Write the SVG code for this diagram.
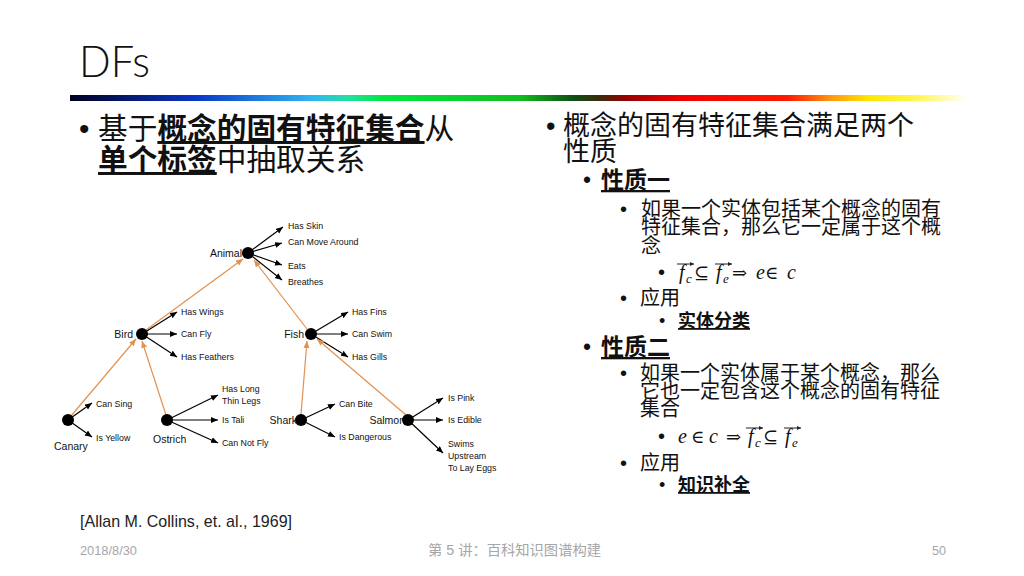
<svg xmlns="http://www.w3.org/2000/svg" width="1024" height="576" viewBox="0 0 1024 576">
<defs>
<linearGradient id="bar" x1="0" y1="0" x2="1" y2="0">
<stop offset="0" stop-color="#000022"/>
<stop offset="0.14" stop-color="#0a36c8"/>
<stop offset="0.27" stop-color="#2fb6f2"/>
<stop offset="0.31" stop-color="#22e0a0"/>
<stop offset="0.35" stop-color="#00e640"/>
<stop offset="0.5" stop-color="#0fc020"/>
<stop offset="0.56" stop-color="#0f5014"/>
<stop offset="0.59" stop-color="#3a2a0c"/>
<stop offset="0.62" stop-color="#9a0000"/>
<stop offset="0.68" stop-color="#ee0000"/>
<stop offset="0.8" stop-color="#ff1a00"/>
<stop offset="0.85" stop-color="#ff9a10"/>
<stop offset="0.89" stop-color="#ffe600"/>
<stop offset="0.95" stop-color="#fff860"/>
<stop offset="1" stop-color="#ffffff"/>
</linearGradient>
<marker id="ab" markerUnits="userSpaceOnUse" markerWidth="8" markerHeight="7" refX="7" refY="3" orient="auto">
<path d="M0,0 L7,3 L0,6 z" fill="#000"/>
</marker>
<marker id="ao" markerUnits="userSpaceOnUse" markerWidth="8" markerHeight="7" refX="7" refY="3" orient="auto">
<path d="M0,0 L7,3 L0,6 z" fill="#e3914f"/>
</marker>
<marker id="va" markerUnits="userSpaceOnUse" markerWidth="5" markerHeight="5" refX="4" refY="2" orient="auto">
<path d="M0,0 L4,2 L0,4 z" fill="#222"/>
</marker>
<style>
.cjk{font-family:"Noto Sans CJK SC","Liberation Sans",sans-serif;fill:#111}
.bul{font-family:"Liberation Sans",sans-serif}
.b{font-weight:bold}
.u{text-decoration:underline}
.lbl{font-family:"Liberation Sans",sans-serif;font-size:8.8px;fill:#111}
.nl{font-family:"Liberation Sans",sans-serif;font-size:10.5px;fill:#111}
.blk{stroke:#000;stroke-width:1.2;fill:none;marker-end:url(#ab)}
.org{stroke:#e3914f;stroke-width:1.2;fill:none;marker-end:url(#ao)}
.dot{fill:#000}
.m{font-family:"Liberation Serif","DejaVu Serif",serif;font-style:italic;font-size:20px;fill:#111}
.ms{font-family:"Liberation Serif","DejaVu Serif",serif;font-style:italic;font-size:13px;fill:#111}
.mo{font-family:"DejaVu Serif","Liberation Serif",serif;font-size:18px;fill:#111}
.va{stroke:#222;stroke-width:1;marker-end:url(#va)}
.ft{font-family:"Liberation Sans","Noto Sans CJK SC",sans-serif;fill:#a6a6a6}
</style>
</defs>
<rect width="1024" height="576" fill="#fff"/>

<text x="79" y="77" font-family="Lato,'Liberation Sans',sans-serif" font-weight="300" font-size="44" fill="#111" textLength="71" lengthAdjust="spacingAndGlyphs">DFs</text>
<rect x="70" y="95" width="897" height="6" fill="url(#bar)"/>

<g id="left-text" class="cjk" font-size="29.7">
<text y="139"><tspan class="bul" x="79">•</tspan><tspan x="98">基于</tspan><tspan class="b u">概念的固有特征集合</tspan><tspan>从</tspan></text>
<text y="170"><tspan class="b u" x="98">单个标签</tspan><tspan>中抽取关系</tspan></text>
</g>

<g id="connectors">
<line class="blk" x1="248" y1="253" x2="283" y2="227"/>
<line class="blk" x1="248" y1="253" x2="282" y2="243"/>
<line class="blk" x1="248" y1="253" x2="282" y2="265"/>
<line class="blk" x1="248" y1="253" x2="282" y2="280"/>
<line class="blk" x1="142" y1="334" x2="177" y2="312"/>
<line class="blk" x1="142" y1="334" x2="177" y2="334"/>
<line class="blk" x1="142" y1="334" x2="177" y2="357"/>
<line class="blk" x1="311" y1="334" x2="348" y2="312"/>
<line class="blk" x1="311" y1="334" x2="348" y2="334"/>
<line class="blk" x1="311" y1="334" x2="348" y2="357"/>
<line class="blk" x1="68" y1="420" x2="92" y2="403"/>
<line class="blk" x1="68" y1="420" x2="92" y2="437"/>
<line class="blk" x1="167" y1="420" x2="218" y2="395"/>
<line class="blk" x1="167" y1="420" x2="218" y2="420"/>
<line class="blk" x1="167" y1="420" x2="218" y2="443"/>
<line class="blk" x1="301" y1="420" x2="335" y2="404"/>
<line class="blk" x1="301" y1="420" x2="335" y2="437"/>
<line class="blk" x1="408" y1="420" x2="443" y2="398"/>
<line class="blk" x1="408" y1="420" x2="443" y2="420"/>
<line class="blk" x1="408" y1="420" x2="443" y2="453"/>
<line class="org" x1="146" y1="330" x2="243" y2="259"/>
<line class="org" x1="307" y1="329" x2="254" y2="260"/>
<line class="org" x1="71" y1="416" x2="136" y2="339"/>
<line class="org" x1="166" y1="415" x2="142" y2="341"/>
<line class="org" x1="301" y1="414" x2="307" y2="341"/>
<line class="org" x1="406" y1="415" x2="317" y2="339"/>
</g>

<g id="animal"><circle class="dot" cx="248" cy="253" r="6"/><text class="nl" x="242" y="257" text-anchor="end">Animal</text>
<text class="lbl" x="288" y="229">Has Skin</text><text class="lbl" x="288" y="245">Can Move Around</text><text class="lbl" x="288" y="269">Eats</text><text class="lbl" x="288" y="285">Breathes</text></g>
<g id="bird"><circle class="dot" cx="142" cy="334" r="6"/><text class="nl" x="133" y="338" text-anchor="end">Bird</text>
<text class="lbl" x="181" y="315">Has Wings</text><text class="lbl" x="181" y="337">Can Fly</text><text class="lbl" x="181" y="360">Has Feathers</text></g>
<g id="fish"><circle class="dot" cx="311" cy="334" r="6"/><text class="nl" x="304" y="338" text-anchor="end">Fish</text>
<text class="lbl" x="352" y="315">Has Fins</text><text class="lbl" x="352" y="337">Can Swim</text><text class="lbl" x="352" y="360">Has Gills</text></g>
<g id="canary"><circle class="dot" cx="68" cy="420" r="6"/><text class="nl" x="54" y="450">Canary</text>
<text class="lbl" x="96" y="407">Can Sing</text><text class="lbl" x="96" y="441">Is Yellow</text></g>
<g id="ostrich"><circle class="dot" cx="167" cy="420" r="6"/><text class="nl" x="153" y="443">Ostrich</text>
<text class="lbl" x="222" y="392">Has Long</text><text class="lbl" x="222" y="404">Thin Legs</text><text class="lbl" x="222" y="423">Is Tali</text><text class="lbl" x="222" y="446">Can Not Fly</text></g>
<g id="shark"><circle class="dot" cx="301" cy="420" r="6"/><text class="nl" x="297" y="424" text-anchor="end">Shark</text>
<text class="lbl" x="339" y="407">Can Bite</text><text class="lbl" x="339" y="440">Is Dangerous</text></g>
<g id="salmon"><text class="nl" x="405" y="424" text-anchor="end">Salmon</text><circle class="dot" cx="408" cy="420" r="6"/>
<text class="lbl" x="448" y="401">Is Pink</text><text class="lbl" x="448" y="423">Is Edible</text><text class="lbl" x="448" y="447">Swims</text><text class="lbl" x="448" y="459">Upstream</text><text class="lbl" x="448" y="471">To Lay Eggs</text></g>

<g id="right-text" class="cjk">
<text y="135" font-size="27"><tspan class="bul" x="546">•</tspan><tspan x="563">概念的固有特征集合满足两个</tspan></text>
<text y="161" font-size="27" x="563">性质</text>
<text y="188" font-size="23"><tspan class="bul" x="583">•</tspan><tspan class="b u" x="601">性质一</tspan></text>
<text y="216" font-size="20"><tspan class="bul" x="620">•</tspan><tspan x="641">如果一个实体包括某个概念的固有</tspan></text>
<text y="234" font-size="20" x="641">特征集合，那么它一定属于这个概</text>
<text y="253" font-size="20" x="641">念</text>
<text y="279" font-size="20" class="bul" x="658">•</text>
<text y="305" font-size="20"><tspan class="bul" x="620">•</tspan><tspan x="640">应用</tspan></text>
<text y="327" font-size="18"><tspan class="bul" x="659">•</tspan><tspan class="b u" x="678">实体分类</tspan></text>
<text y="355" font-size="23"><tspan class="bul" x="583">•</tspan><tspan class="b u" x="601">性质二</tspan></text>
<text y="380" font-size="20"><tspan class="bul" x="620">•</tspan><tspan x="640">如果一个实体属于某个概念，那么</tspan></text>
<text y="398" font-size="20" x="640">它也一定包含这个概念的固有特征</text>
<text y="416" font-size="20" x="640">集合</text>
<text y="443" font-size="20" class="bul" x="658">•</text>
<text y="470" font-size="20"><tspan class="bul" x="620">•</tspan><tspan x="640">应用</tspan></text>
<text y="491" font-size="18"><tspan class="bul" x="659">•</tspan><tspan class="b u" x="678">知识补全</tspan></text>
</g>

<g id="formula1">
<text class="m" x="679" y="279">f</text><text class="ms" x="686" y="283">c</text>
<text class="mo" x="694" y="279">⊆</text>
<text class="m" x="716" y="279">f</text><text class="ms" x="723" y="283">e</text>
<text class="mo" x="732" y="279">⇒</text>
<text class="m" x="756" y="279">e</text>
<text class="mo" x="765" y="279">∈</text>
<text class="m" x="787" y="279">c</text>
<line class="va" x1="677" y1="264" x2="694" y2="264"/>
<line class="va" x1="715" y1="264" x2="732" y2="264"/>
</g>
<g id="formula2">
<text class="m" x="678" y="443">e</text>
<text class="mo" x="691" y="443">∈</text>
<text class="m" x="709" y="443">c</text>
<text class="mo" x="726" y="443">⇒</text>
<text class="m" x="748" y="443">f</text><text class="ms" x="755" y="447">c</text>
<text class="mo" x="763" y="443">⊆</text>
<text class="m" x="785" y="443">f</text><text class="ms" x="792" y="447">e</text>
<line class="va" x1="746" y1="428" x2="763" y2="428"/>
<line class="va" x1="784" y1="428" x2="801" y2="428"/>
</g>

<text x="80" y="527" font-family="Liberation Sans,sans-serif" font-size="17" fill="#222" textLength="212" lengthAdjust="spacingAndGlyphs">[Allan M. Collins, et. al., 1969]</text>
<text class="ft" x="80" y="555" font-size="13" textLength="57" lengthAdjust="spacingAndGlyphs">2018/8/30</text>
<text class="ft" x="428" y="555" font-size="14" textLength="173" lengthAdjust="spacingAndGlyphs">第 5 讲：百科知识图谱构建</text>
<text class="ft" x="932" y="555" font-size="13" textLength="14" lengthAdjust="spacingAndGlyphs">50</text>
</svg>
